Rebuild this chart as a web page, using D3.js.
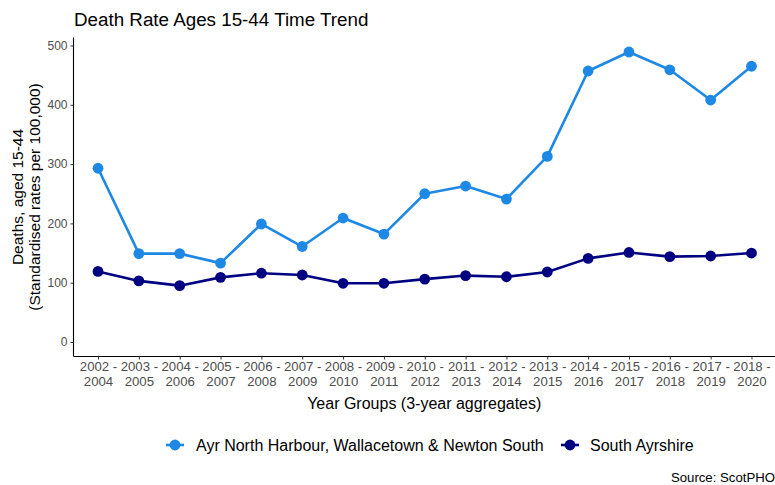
<!DOCTYPE html>
<html><head><meta charset="utf-8">
<script src="https://cdn.jsdelivr.net/npm/d3@7"></script>
<style>body{margin:0;background:#fff;}svg{display:block;font-family:"Liberation Sans",Arial,Helvetica,sans-serif;}</style>
</head><body><svg id="c" width="775" height="485"></svg>
<script>
const categories = ["2002 - 2004","2003 - 2005","2004 - 2006","2005 - 2007","2006 - 2008","2007 - 2009","2008 - 2010","2009 - 2011","2010 - 2012","2011 - 2013","2012 - 2014","2013 - 2015","2014 - 2016","2015 - 2017","2016 - 2018","2017 - 2019","2018 - 2020"];
const ayrNorth = [293,149,149,133,199,161,209,182,250,263,241,313,457,489,459,408,465];
const southAyrshire = [119,103,95,109,116,113,99,99,106,112,110,118,141,151,144,145,150];
const seriesNames = ["Ayr North Harbour, Wallacetown & Newton South","South Ayrshire"];
const seriesColors = ["#1E88E5","#000080"];
const yTicks = [0,100,200,300,400,500];

(function(){
const svg = d3.select("#c");
const pL = 73.5, pR = 776, pT = 37.5, pB = 356.5;
const x = d3.scalePoint().domain(categories).range([pL, pR]).padding(0.6);
const yMax = 489, yMin = 0, ex = (yMax - yMin) * 0.05;
const y = d3.scaleLinear().domain([yMin - ex, yMax + ex]).range([pB, pT]);

// title
svg.append("text").attr("x", 74).attr("y", 26).attr("font-size", 18.8).attr("fill", "#000").text("Death Rate Ages 15-44 Time Trend");

// y axis
const ya = svg.append("g").attr("transform", `translate(${pL},0)`).call(d3.axisLeft(y).tickValues(yTicks).tickSize(3).tickPadding(3));
ya.select(".domain").attr("d", `M0,${pT}V${pB}`).attr("stroke", "#000").attr("stroke-width", 1.1);
ya.selectAll(".tick line").attr("stroke", "#333");
ya.selectAll(".tick text").attr("fill", "#4D4D4D").attr("font-size", 12).attr("font-family", "Liberation Sans, Arial, sans-serif");

// x axis
const xa = svg.append("g").attr("transform", `translate(0,${pB})`).call(d3.axisBottom(x).tickSize(3).tickPadding(2));
xa.select(".domain").attr("d", `M${pL},0H${pR}`).attr("stroke", "#000").attr("stroke-width", 1.1);
xa.selectAll(".tick line").attr("stroke", "#333");
xa.selectAll(".tick text").each(function(d){
  const t = d3.select(this); t.text(null);
  const parts = d.split(" - ");
  t.attr("fill", "#4D4D4D").attr("font-size", 13.2).attr("font-family", "Liberation Sans, Arial, sans-serif");
  t.append("tspan").attr("x", 0).attr("dy", "0.71em").text(parts[0] + " -");
  t.append("tspan").attr("x", 0).attr("dy", "1.15em").text(parts[1]);
});

// axis titles
svg.append("text").attr("x", (pL + 775) / 2).attr("y", 409).attr("text-anchor", "middle").attr("font-size", 16).text("Year Groups (3-year aggregates)");
const yt = svg.append("text").attr("transform", `translate(23,${(pT + pB) / 2}) rotate(-90)`).attr("text-anchor", "middle").attr("font-size", 15.5);
yt.append("tspan").attr("x", 0).attr("dy", 0).text("Deaths, aged 15-44");
yt.append("tspan").attr("x", 0).attr("dy", 16.5).text("(Standardised rates per 100,000)");

// lines & points
const line = d3.line().x((d, i) => x(categories[i])).y(d => y(d));
[southAyrshire, ayrNorth].forEach((s, k) => {
  const c = k === 0 ? seriesColors[1] : seriesColors[0];
  svg.append("path").datum(s).attr("d", line).attr("fill", "none").attr("stroke", c).attr("stroke-width", 2.6).attr("stroke-linejoin", "round");
  svg.selectAll(null).data(s).enter().append("circle").attr("cx", (d, i) => x(categories[i])).attr("cy", d => y(d)).attr("r", 5.4).attr("fill", c);
});

// legend
const lg = svg.append("g").attr("font-size", 16);
const legPos = [[166, 196], [561, 590]];
seriesNames.forEach((n, i) => {
  const [lx, tx] = legPos[i];
  lg.append("line").attr("x1", lx).attr("x2", lx + 18).attr("y1", 445).attr("y2", 445).attr("stroke", seriesColors[i]).attr("stroke-width", 2.6);
  lg.append("circle").attr("cx", lx + 9).attr("cy", 445).attr("r", 5.4).attr("fill", seriesColors[i]);
  lg.append("text").attr("x", tx).attr("y", 451).text(n);
});

// caption
svg.append("text").attr("x", 775).attr("y", 482).attr("text-anchor", "end").attr("font-size", 13.2).text("Source: ScotPHO");
})();
</script></body></html>
